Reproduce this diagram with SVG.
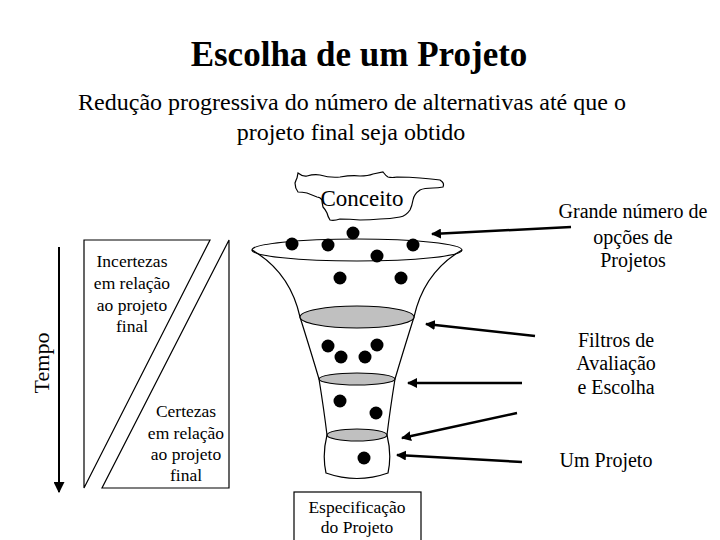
<svg xmlns="http://www.w3.org/2000/svg" width="720" height="540" viewBox="0 0 720 540">
<style>
  text { font-family: "Liberation Serif", "Times New Roman", serif; fill: #000; }
  .title { font-size: 35px; font-weight: bold; }
  .sub { font-size: 24px; }
  .lbl { font-size: 20px; }
  .sm { font-size: 17.5px; }
  .line { fill: none; stroke: #000; stroke-width: 1.2; }
  .filter { fill: #c0c0c0; stroke: #000; stroke-width: 1.2; }
  .dot { fill: #000; }
  .arr { fill: none; stroke: #000; stroke-width: 2.5; marker-end: url(#ah); }
</style>
<defs>
  <marker id="ah" viewBox="0 0 10 10" refX="9" refY="5" markerWidth="4" markerHeight="4" orient="auto" markerUnits="strokeWidth">
    <path d="M0,0 L10,5 L0,10 Z" fill="#000"/>
  </marker>
  <marker id="ahT" viewBox="0 0 10 10" refX="9" refY="5" markerWidth="11" markerHeight="11" orient="auto" markerUnits="userSpaceOnUse">
    <path d="M0,0 L10,5 L0,10 Z" fill="#000"/>
  </marker>
</defs>
<rect width="720" height="540" fill="#fff"/>

<g id="title">
  <text class="title" x="359" y="66" text-anchor="middle">Escolha de um Projeto</text>
  <text class="sub" x="352" y="110" text-anchor="middle">Redução progressiva do número de alternativas até que o</text>
  <text class="sub" x="351" y="140" text-anchor="middle">projeto final seja obtido</text>
</g>

<g id="conceito">
  <path class="line" d="M298,173 Q303,177 307,176 Q314,174 320,175 Q330,178 340,177 Q352,175 360,176 Q368,176 373,174 L383,172 Q386,176 388,177 Q392,178 397,177 Q410,177 420,178 Q432,179 440,180 Q445,183 443,187 Q438,188 433,188 Q424,188 420,190 Q414,194 413,200 Q412,206 410,210 Q406,216 400,217 Q390,219 380,219 Q370,220 360,220 Q350,219 340,219 Q334,221 330,220 Q328,217 327,213 Q325,209 323,207 Q322,203 322,200 Q320,197 317,197 Q312,195 307,193 Q302,192 298,192 Q295,188 295,183 Q296,180 297,178 Z"/>
  <text x="362" y="206" text-anchor="middle" font-size="23">Conceito</text>
</g>

<g id="funil">
  <path class="line" d="M252,250 Q290,272 300,317 Q311,352 319,379 Q324,410 327,435 Q322,455 326,473 Q357,484 388,473 Q392,455 387,435 Q390,410 395,379 Q403,352 414,317 Q424,272 462,250"/>
  <ellipse class="line" cx="357" cy="250" rx="105" ry="11"/>
  <ellipse class="filter" cx="357" cy="317" rx="57" ry="11"/>
  <ellipse class="filter" cx="357" cy="379" rx="38" ry="6"/>
  <ellipse class="filter" cx="357" cy="435" rx="30" ry="6"/>
  <g class="dot">
    <circle cx="292" cy="244" r="6.5"/>
    <circle cx="328" cy="245" r="6.5"/>
    <circle cx="353" cy="233" r="6.5"/>
    <circle cx="377" cy="256" r="6.5"/>
    <circle cx="413" cy="245" r="6.5"/>
    <circle cx="340" cy="278" r="6.5"/>
    <circle cx="401" cy="278" r="6.5"/>
    <circle cx="328" cy="346" r="6.5"/>
    <circle cx="341" cy="357" r="6.5"/>
    <circle cx="365" cy="357" r="6.5"/>
    <circle cx="377" cy="345" r="6.5"/>
    <circle cx="340" cy="401" r="6.5"/>
    <circle cx="376" cy="413" r="6.5"/>
    <circle cx="364" cy="458" r="6.5"/>
  </g>
</g>

<g id="especificacao">
  <rect x="294" y="492" width="127" height="60" fill="#fff" stroke="#000" stroke-width="1.2"/>
  <text class="sm" x="357" y="513" text-anchor="middle">Especificação</text>
  <text class="sm" x="357" y="533" text-anchor="middle">do Projeto</text>
</g>

<g id="incertezas">
  <path class="line" d="M84,240 L210,240 L84,488 Z"/>
  <text class="sm" x="132" y="267" text-anchor="middle">Incertezas</text>
  <text class="sm" x="132" y="289" text-anchor="middle">em relação</text>
  <text class="sm" x="132" y="311" text-anchor="middle">ao projeto</text>
  <text class="sm" x="132" y="332" text-anchor="middle">final</text>
</g>

<g id="certezas">
  <path class="line" d="M229,240 L229,488 L102,488 Z"/>
  <text class="sm" x="186" y="417" text-anchor="middle">Certezas</text>
  <text class="sm" x="186" y="439" text-anchor="middle">em relação</text>
  <text class="sm" x="186" y="460" text-anchor="middle">ao projeto</text>
  <text class="sm" x="186" y="481" text-anchor="middle">final</text>
</g>

<g id="tempo">
  <line x1="59" y1="247" x2="59" y2="492" stroke="#000" stroke-width="2" marker-end="url(#ahT)"/>
  <text x="0" y="0" font-size="22" text-anchor="middle" transform="translate(49,363) rotate(-90)">Tempo</text>
</g>

<g id="label-grande">
  <text class="lbl" x="633" y="218" text-anchor="middle">Grande número de</text>
  <text class="lbl" x="633" y="244" text-anchor="middle">opções de</text>
  <text class="lbl" x="633" y="267" text-anchor="middle">Projetos</text>
</g>
<g id="label-filtros">
  <text class="lbl" x="616" y="347" text-anchor="middle">Filtros de</text>
  <text class="lbl" x="616" y="370" text-anchor="middle">Avaliação</text>
  <text class="lbl" x="616" y="394" text-anchor="middle">e Escolha</text>
</g>
<g id="label-um">
  <text class="lbl" x="606" y="467" text-anchor="middle">Um Projeto</text>
</g>

<g id="connectors">
  <line class="arr" x1="571" y1="227" x2="432" y2="234"/>
  <line class="arr" x1="535" y1="336" x2="426" y2="324"/>
  <line class="arr" x1="522" y1="383" x2="408" y2="383"/>
  <line class="arr" x1="517" y1="413" x2="402" y2="438"/>
  <line class="arr" x1="522" y1="462" x2="397" y2="455"/>
</g>
</svg>
